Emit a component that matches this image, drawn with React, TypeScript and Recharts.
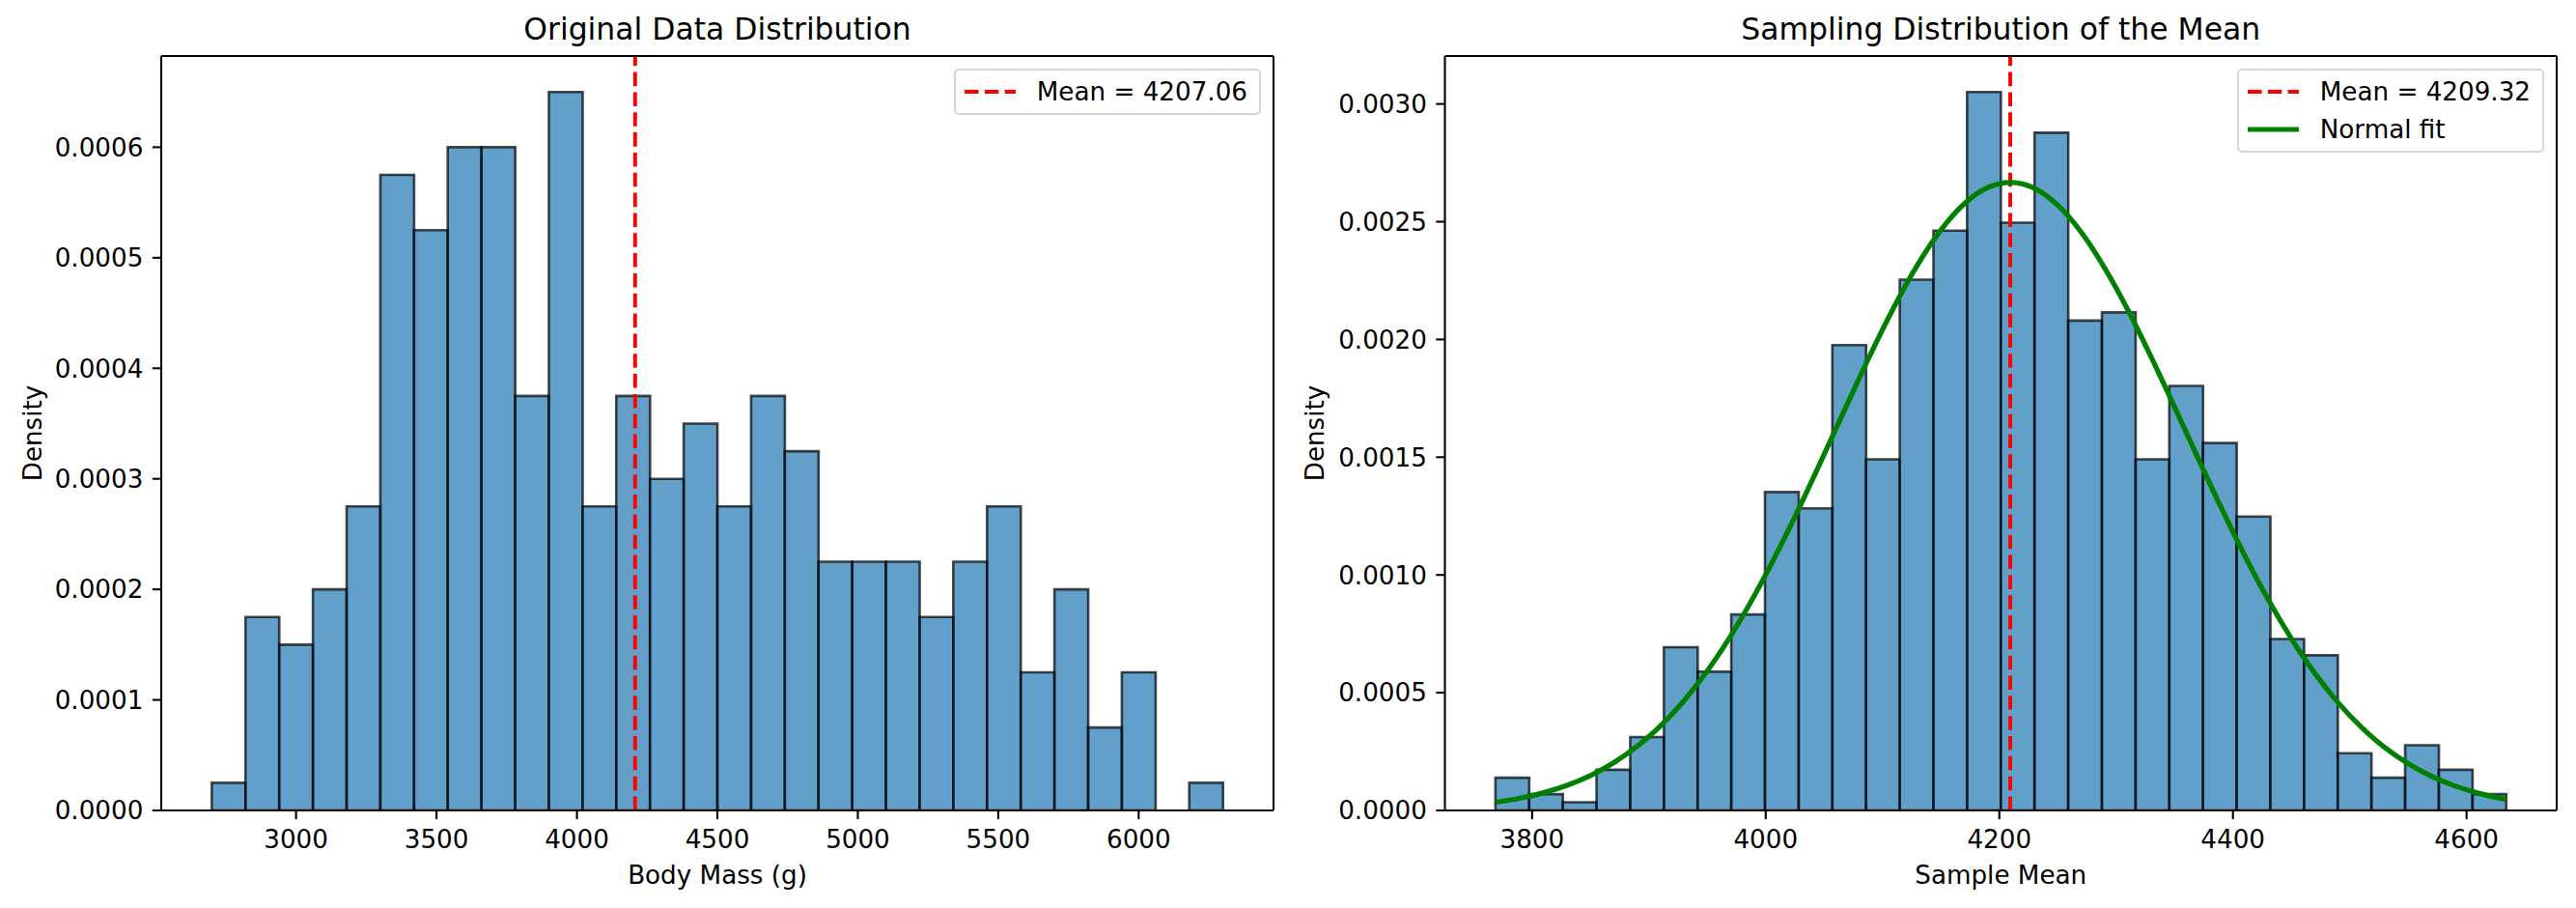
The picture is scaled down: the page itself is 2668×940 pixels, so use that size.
import React from "react";
import { ComposedChart, Bar, Line, XAxis, YAxis, ReferenceLine, Label } from "recharts";

const FONT = "'DejaVu Sans', 'Liberation Sans', sans-serif";
const PT = 2.62; // px per point in the reference figure
const H = 940;
const TOP = 58;
const BOTTOM = 101;

// Left panel: body mass histogram (density, 30 bins)
const massEdges = [
  2700, 2820, 2940, 3060, 3180, 3300, 3420, 3540, 3660, 3780, 3900, 4020, 4140, 4260, 4380, 4500,
  4620, 4740, 4860, 4980, 5100, 5220, 5340, 5460, 5580, 5700, 5820, 5940, 6060, 6180, 6300,
];
const massDensity = [
  0.000025, 0.000175, 0.00015, 0.0002, 0.000275, 0.000575, 0.000525, 0.0006, 0.0006, 0.000375,
  0.00065, 0.000275, 0.000375, 0.0003, 0.00035, 0.000275, 0.000375, 0.000325, 0.000225, 0.000225,
  0.000225, 0.000175, 0.000225, 0.000275, 0.000125, 0.0002, 0.000075, 0.000125, 0, 0.000025,
];
const massTicks = [3000, 3500, 4000, 4500, 5000, 5500, 6000];
const massDensityTicks = [0, 0.0001, 0.0002, 0.0003, 0.0004, 0.0005, 0.0006];
const massMean = 4207.06;

// Right panel: sampling distribution of the mean
const meanEdges = [
  3768.6, 3797.4, 3826.3, 3855.1, 3884.0, 3912.8, 3941.7, 3970.5, 3999.3, 4028.2, 4057.0, 4085.9,
  4114.7, 4143.6, 4172.4, 4201.2, 4230.1, 4258.9, 4287.8, 4316.6, 4345.5, 4374.3, 4403.1, 4432.0,
  4460.8, 4489.7, 4518.5, 4547.4, 4576.2, 4605.1, 4633.9,
];
const meanDensity = [
  0.000139, 0.0000693, 0.0000347, 0.000173, 0.000312, 0.000693, 0.000589, 0.000832, 0.001352,
  0.001283, 0.001976, 0.001491, 0.002254, 0.002462, 0.003051, 0.002496, 0.002878, 0.00208,
  0.002115, 0.001491, 0.001803, 0.00156, 0.001248, 0.000728, 0.000659, 0.000243, 0.000139,
  0.000277, 0.000173, 0.0000693,
];
const fitX = [
  3769, 3790, 3810, 3830, 3850, 3870, 3890, 3910, 3930, 3950, 3970, 3990, 4010, 4030, 4050, 4070,
  4090, 4110, 4130, 4150, 4170, 4190, 4210, 4230, 4250, 4270, 4290, 4310, 4330, 4350, 4370, 4390,
  4410, 4430, 4450, 4470, 4490, 4510, 4530, 4550, 4570, 4590, 4610, 4630, 4634,
];
const fitY = [
  0.0000349, 0.0000522, 0.0000753, 0.0001068, 0.0001486, 0.000203, 0.0002726, 0.0003595,
  0.0004657, 0.0005926, 0.0007409, 0.0009094, 0.001097, 0.001299, 0.001512, 0.001728, 0.00194,
  0.002139, 0.002317, 0.002465, 0.002576, 0.002645, 0.002667, 0.002642, 0.00257, 0.002456,
  0.002305, 0.002126, 0.001925, 0.001713, 0.001497, 0.001285, 0.001083, 0.000897, 0.00073,
  0.000583, 0.000458, 0.000353, 0.000267, 0.000199, 0.000145, 0.000104, 0.0000734, 0.0000509,
  0.0000472,
];
const sampleTicks = [3800, 4000, 4200, 4400, 4600];
const sampleDensityTicks = [0, 0.0005, 0.001, 0.0015, 0.002, 0.0025, 0.003];
const sampleMean = 4209.32;

const tickStyle = { fill: "#000", fontSize: 10 * PT, fontFamily: FONT };
const axisStroke = { stroke: "#000", strokeWidth: 0.8 * PT };
const textStyle = { fill: "#000", fontSize: 10 * PT, fontFamily: FONT };

function LegendBox({ right, mean, showFit }) {
  const row = { display: "flex", alignItems: "center", height: 26 };
  return (
    <div
      style={{
        position: "absolute",
        right,
        top: TOP + 13,
        padding: "9px 12px 9px 9px",
        border: "2px solid #d6d6d6",
        borderRadius: 5,
        background: "rgba(255,255,255,0.8)",
        fontFamily: FONT,
        fontSize: 10 * PT,
        lineHeight: "26px",
        color: "#000",
        display: "flex",
        flexDirection: "column",
        gap: 13,
      }}
    >
      <div style={row}>
        <svg width={53} height={10} style={{ marginRight: 22 }}>
          <line x1={0} y1={5} x2={53} y2={5} stroke="#ff0000" strokeWidth={1.5 * PT} strokeDasharray={`${5.55 * PT} ${2.4 * PT}`} />
        </svg>
        <span>Mean = {mean.toFixed(2)}</span>
      </div>
      {showFit && (
        <div style={row}>
          <svg width={53} height={10} style={{ marginRight: 22 }}>
            <line x1={0} y1={5} x2={53} y2={5} stroke="#008000" strokeWidth={2 * PT} />
          </svg>
          <span>Normal fit</span>
        </div>
      )}
    </div>
  );
}

function HistPanel({ left, width, yAxisWidth, marginRight, labelX, title, xLabel, edges, density, mean, xTicks, yTicks, fit }) {
  const span = edges[edges.length - 1] - edges[0];
  const xDomain = [edges[0] - span * 0.05, edges[edges.length - 1] + span * 0.05];
  const yDomain = [0, Math.max(...density) * 1.05];
  const bins = density.map((d, i) => ({ center: (edges[i] + edges[i + 1]) / 2, density: d }));
  const plotW = width - yAxisWidth - marginRight;

  return (
    <div style={{ position: "absolute", left, top: 0, width, height: H }}>
      <div
        style={{
          position: "absolute",
          left: yAxisWidth,
          width: plotW,
          top: 15,
          textAlign: "center",
          fontFamily: FONT,
          fontSize: 12 * PT,
          lineHeight: `${12 * PT}px`,
          color: "#000",
        }}
      >
        {title}
      </div>
      <ComposedChart
        width={width}
        height={H}
        data={bins}
        margin={{ top: TOP - 1, right: marginRight - 1, bottom: 0, left: 0 }}
        barCategoryGap={0}
        barGap={0}
      >
        <XAxis
          xAxisId="main"
          dataKey="x"
          type="number"
          domain={xDomain}
          allowDataOverflow
          ticks={xTicks}
          interval={0}
          height={BOTTOM}
          tickSize={3.5 * PT}
          tickMargin={11}
          tick={tickStyle}
          tickLine={axisStroke}
          axisLine={axisStroke}
        >
          <Label value={xLabel} position="insideBottom" offset={25} style={textStyle} />
        </XAxis>
        <XAxis xAxisId="bins" dataKey="center" type="number" domain={xDomain} allowDataOverflow height={0} hide />
        <XAxis
          xAxisId="top"
          orientation="top"
          type="number"
          domain={xDomain}
          allowDataOverflow
          height={1}
          tick={false}
          tickLine={false}
          axisLine={axisStroke}
        />
        <YAxis
          yAxisId="y"
          type="number"
          domain={yDomain}
          allowDataOverflow
          ticks={yTicks}
          interval={0}
          width={yAxisWidth}
          tickSize={3.5 * PT}
          tickMargin={9.5}
          tick={tickStyle}
          tickLine={axisStroke}
          axisLine={axisStroke}
          tickFormatter={(v) => Number(v).toFixed(4)}
        >
          <Label value="Density" angle={-90} position="insideLeft" offset={labelX} style={{ ...textStyle, textAnchor: "middle" }} />
        </YAxis>
        <YAxis
          yAxisId="right"
          orientation="right"
          type="number"
          domain={yDomain}
          allowDataOverflow
          width={1}
          tick={false}
          tickLine={false}
          axisLine={axisStroke}
        />
        <Bar
          xAxisId="bins"
          yAxisId="y"
          dataKey="density"
          fill="#1f77b4"
          fillOpacity={0.7}
          stroke="#000"
          strokeOpacity={0.7}
          strokeWidth={PT}
          isAnimationActive={false}
        />
        <ReferenceLine
          xAxisId="main"
          yAxisId="y"
          x={mean}
          stroke="#ff0000"
          strokeWidth={1.5 * PT}
          strokeDasharray={`${5.55 * PT} ${2.4 * PT}`}
        />
        {fit && (
          <Line
            xAxisId="main"
            yAxisId="y"
            data={fit}
            dataKey="y"
            type="monotone"
            stroke="#008000"
            strokeWidth={2 * PT}
            dot={false}
            activeDot={false}
            isAnimationActive={false}
          />
        )}
      </ComposedChart>
      <LegendBox right={marginRight + 13} mean={mean} showFit={!!fit} />
    </div>
  );
}

export default function App() {
  const fit = fitX.map((x, i) => ({ x, y: fitY[i] }));
  return (
    <div style={{ position: "absolute", left: 0, top: 0, width: 2668, height: H, background: "#fff" }}>
      <HistPanel
        left={0}
        width={1334}
        yAxisWidth={167}
        marginRight={15}
        labelX={34}
        title="Original Data Distribution"
        xLabel="Body Mass (g)"
        edges={massEdges}
        density={massDensity}
        mean={massMean}
        xTicks={massTicks}
        yTicks={massDensityTicks}
        fit={null}
      />
      <HistPanel
        left={1334}
        width={1334}
        yAxisWidth={162.5}
        marginRight={20}
        labelX={28}
        title="Sampling Distribution of the Mean"
        xLabel="Sample Mean"
        edges={meanEdges}
        density={meanDensity}
        mean={sampleMean}
        xTicks={sampleTicks}
        yTicks={sampleDensityTicks}
        fit={fit}
      />
    </div>
  );
}
